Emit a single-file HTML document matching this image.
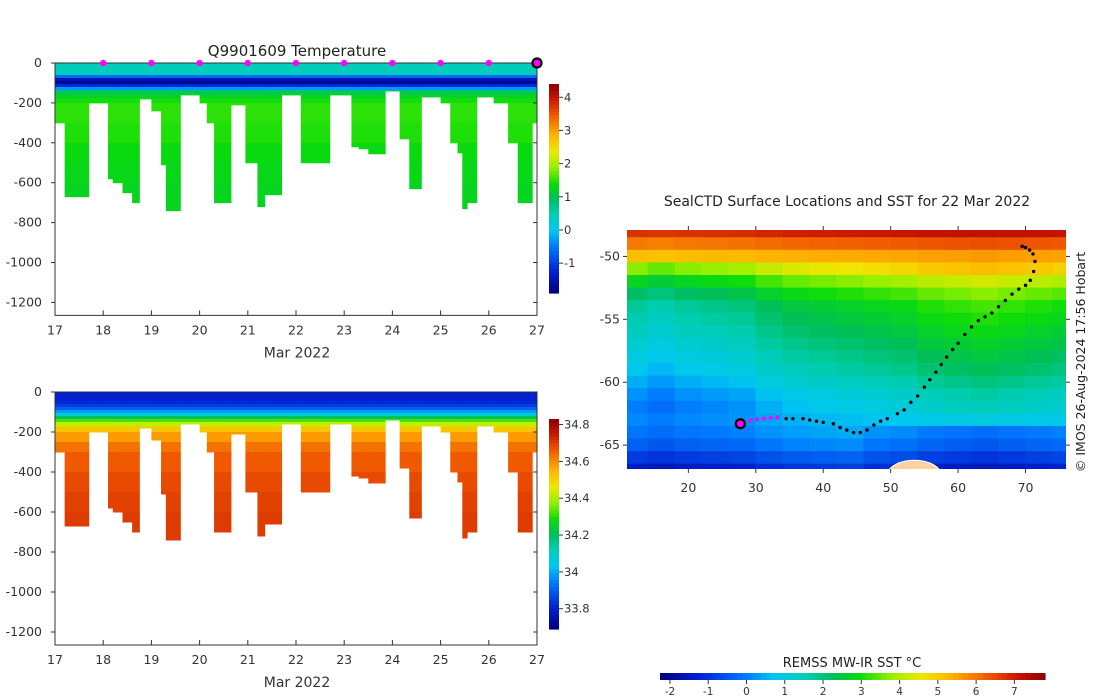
<!DOCTYPE html>
<html><head><meta charset="utf-8"><style>
body{margin:0;background:#fff}
svg{display:block;font-family:"DejaVu Sans","Liberation Sans",sans-serif}
.t{font-size:12.5px;fill:#333}
</style></head><body>
<svg id="fig" width="1100" height="700" viewBox="0 0 1100 700">
<g id="top"></g>
<g id="bot"></g>
<g id="map"></g>
<text x="297" y="56" text-anchor="middle" style="font-size:15px" fill="#222">Q9901609  Temperature</text>
<text x="847" y="206" text-anchor="middle" style="font-size:14px" fill="#222">SealCTD Surface Locations and SST for 22 Mar 2022</text>
<text x="852" y="667" text-anchor="middle" style="font-size:13px" fill="#222">REMSS MW-IR SST °C</text>
<text transform="translate(1085,362) rotate(-90)" text-anchor="middle" style="font-size:12.5px" fill="#222">© IMOS 26-Aug-2024 17:56 Hobart</text>
</svg>
<script>
// ---- section data ----
const colStart=[17.0,17.2,17.7,18.1,18.2,18.4,18.6,18.75,19.0,19.2,19.3,19.6,20.0,20.15,20.3,20.65,20.95,21.2,21.35,21.7,22.1,22.7,23.15,23.3,23.5,23.85,24.15,24.35,24.6,25.0,25.2,25.35,25.45,25.55,25.75,26.1,26.4,26.6,26.9];
const colEnd=[17.2,17.7,18.1,18.2,18.4,18.6,18.75,19.0,19.2,19.3,19.6,20.0,20.15,20.3,20.65,20.95,21.2,21.35,21.7,22.1,22.7,23.15,23.3,23.5,23.85,24.15,24.35,24.6,25.0,25.2,25.35,25.45,25.55,25.75,26.1,26.4,26.6,26.9,27.0];
const colMaxDepth=[300,670,200,580,600,650,700,180,240,510,740,160,200,300,700,210,500,720,660,160,500,160,420,430,455,140,380,630,170,200,400,450,730,700,170,200,400,700,300];
const depthLevels=[0,20,45,60,75,90,105,120,135,150,175,200,250,300,400,500,600,800];
const tempProfile=[0.45,0.45,0.4,-0.6,-1.5,-1.7,-1.2,-0.3,0.8,1.2,1.4,1.5,1.5,1.45,1.35,1.3,1.25,1.2];
const salProfile=[33.8,33.8,33.82,33.85,33.9,33.98,34.08,34.2,34.32,34.42,34.52,34.58,34.63,34.66,34.68,34.69,34.7,34.71];
const dayTicks=[17,18,19,20,21,22,23,24,25,26,27];
const depthTicks=[0,200,400,600,800,1000,1200];
const markerDays=[18,19,20,21,22,23,24,25,26];
const tempCbTicks=[-1,0,1,2,3,4];
const salCbTicks=[33.8,34,34.2,34.4,34.6,34.8];
// ---- map data ----
const sstLats=[-48,-49,-50,-51,-52,-53,-54,-55,-56,-57,-58,-59,-60,-61,-62,-63,-64,-65,-66,-67];
const sstByLat=[7.0,6.2,5.4,4.5,3.6,3.0,2.6,2.4,2.2,2.0,1.8,1.6,1.3,1.0,0.8,0.6,0.4,0.1,-0.4,-0.9];
const sstLons=[12,16,20,24,28,32,36,40,44,48,52,56,60,64,68,72,76];
const lonAnom=[-0.8,-1.0,-0.8,-0.7,-0.6,-0.3,-0.1,0.0,0.1,0.2,0.3,0.5,0.6,0.7,0.6,0.5,0.4];
const trackLon=[33.2,34.5,35.5,37,38,39,40,41.5,42.5,43.5,44.5,45.5,46.5,47.5,48.5,49.5,51,52,53,54,55,55.8,56.7,57.5,58.3,59.2,60,61,62,63,64,65,66,67,68,69,70,70.7,71.2,71.4,71.1,70.6,70.0,69.5];
const trackLat=[-62.8,-62.9,-62.9,-62.9,-63.0,-63.1,-63.2,-63.3,-63.6,-63.8,-64.0,-64.0,-63.8,-63.4,-63.1,-62.9,-62.5,-62.2,-61.6,-61.1,-60.4,-59.8,-59.2,-58.6,-58.0,-57.4,-56.9,-56.2,-55.6,-55.1,-54.8,-54.5,-54.0,-53.5,-53.0,-52.6,-52.3,-51.9,-51.2,-50.4,-49.8,-49.5,-49.3,-49.2];
const recentLon=[28.2,29.2,30.2,31.2,32.2,33.2];
const recentLat=[-63.15,-63.05,-62.95,-62.9,-62.85,-62.8];
const lonTicks=[20,30,40,50,60,70];
const latTicks=[-50,-55,-60,-65];
const sstCbTicks=[-2,-1,0,1,2,3,4,5,6,7];

const NS='http://www.w3.org/2000/svg';
function mk(p,tag,a){const e=document.createElementNS(NS,tag);for(const k in a)e.setAttribute(k,a[k]);p.appendChild(e);return e;}
const stops=[[0,[0,0,128]],[0.1,[0,32,208]],[0.22,[0,120,255]],[0.3,[0,200,240]],[0.38,[0,205,180]],[0.45,[0,190,90]],[0.52,[10,220,10]],[0.6,[150,240,0]],[0.68,[240,230,0]],[0.76,[255,175,0]],[0.85,[240,90,0]],[0.93,[200,20,0]],[1,[140,0,0]]];
function cmap(f){f=Math.max(0,Math.min(1,f));for(let i=1;i<stops.length;i++){if(f<=stops[i][0]){const a=stops[i-1],b=stops[i],t=(f-a[0])/(b[0]-a[0]);const c=a[1].map((v,j)=>Math.round(v+(b[1][j]-v)*t));return `rgb(${c})`;}}return 'rgb(140,0,0)';}

function section(g,y0,ys,profile,vmin,vmax,cbTop,cbBot,cbTicks,showMarkers){
  const xs=d=>55+(d-17)*48.2, yz=z=>y0+z*ys;
  for(let c=0;c<colStart.length;c++){
    for(let i=0;i<depthLevels.length;i++){
      const z0=depthLevels[i], z1=Math.min(i+1<depthLevels.length?depthLevels[i+1]:2000,colMaxDepth[c]);
      if(z0>=colMaxDepth[c])break;
      const r=mk(g,'rect',{x:xs(colStart[c]),y:yz(z0),width:xs(colEnd[c])-xs(colStart[c])+0.5,height:yz(z1)-yz(z0)+0.5,fill:cmap((profile[i]-vmin)/(vmax-vmin))});
      
      
    }
  }
  const ax=mk(g,'rect',{x:55,y:y0,width:482,height:yz(1265)-y0,fill:'none',stroke:'#333','stroke-width':1});
  
  dayTicks.forEach(d=>{mk(g,'line',{x1:xs(d),x2:xs(d),y1:yz(1265),y2:yz(1265)-5,stroke:'#333'});
    const t=mk(g,'text',{x:xs(d),y:yz(1265)+19,'text-anchor':'middle',class:'t'});t.textContent=d;
    });
  depthTicks.forEach(z=>{mk(g,'line',{x1:55,x2:51,y1:yz(z),y2:yz(z),stroke:'#333'});mk(g,'line',{x1:537,x2:533,y1:yz(z),y2:yz(z),stroke:'#333'});
    const t=mk(g,'text',{x:42,y:yz(z)+4,'text-anchor':'end',class:'t'});t.textContent=z===0?'0':'-'+z;
    });
  const xl=mk(g,'text',{x:297,y:yz(1265)+42,'text-anchor':'middle',style:'font-size:14px',fill:'#333'});xl.textContent='Mar 2022';
  
  const n=60,h=(cbBot-cbTop)/n;
  for(let i=0;i<n;i++){const r=mk(g,'rect',{x:549,y:cbTop+i*h,width:10,height:h+0.6,fill:cmap(1-(i+0.5)/n)});
    }
  cbTicks.forEach(v=>{const y=cbBot-(v-vmin)/(vmax-vmin)*(cbBot-cbTop);mk(g,'line',{x1:559,x2:563,y1:y,y2:y,stroke:'#333'});
    const t=mk(g,'text',{x:564,y:y+4,style:'font-size:11.5px',fill:'#333'});t.textContent=v;
    });
  if(showMarkers){markerDays.forEach(d=>{const m=mk(g,'circle',{cx:xs(d),cy:y0,r:3.2,fill:'#ff00ff'});
      });
    const m=mk(g,'circle',{cx:xs(27),cy:y0,r:4.5,fill:'#ff00ff',stroke:'#000','stroke-width':2.2});
    }
}
section(document.getElementById('top'),63,0.1995,tempProfile,-1.9,4.4,84,293,tempCbTicks,true);
section(document.getElementById('bot'),392,0.2,salProfile,33.69,34.83,419,629,salCbTicks,false);

(function(){
  const g=document.getElementById('map');
  const L=627,R=1066,T=230,B=469,lon0=10.9,lon1=76,lat0=-47.9,lat1=-66.9;
  const xm=lo=>L+(lo-lon0)/(lon1-lon0)*(R-L), ym=la=>T+(la-lat0)/(lat1-lat0)*(B-T);
  const vmin=-2.26,vmax=7.8;
  const cp=mk(g,'clipPath',{id:'mc'});mk(cp,'rect',{x:L,y:T,width:R-L,height:B-T});
  const cg=mk(g,'g',{'clip-path':'url(#mc)'});
  for(let r=0;r<sstLats.length;r++)for(let c=0;c<sstLons.length;c++){
    const w=r<3?0.3:(r>14?0.6:1);
    const v=sstByLat[r]+lonAnom[c]*w*(r>15&&sstLons[c]>44?-1.4:1);
    const rc=mk(cg,'rect',{x:xm(sstLons[c]-2)-0.3,y:ym(sstLats[r]+0.5)-0.3,width:xm(4)-xm(0)+0.8,height:ym(-1)-ym(0)+0.8,fill:cmap((v-vmin)/(vmax-vmin))});
    
  }
  const land=mk(cg,'ellipse',{cx:xm(53.5),cy:ym(-67.4),rx:xm(57.5)-xm(53.5),ry:15,fill:'#fdd1a0',stroke:'#fff','stroke-width':1});
  
  trackLon.forEach((lo,i)=>{const p=mk(g,'circle',{cx:xm(lo),cy:ym(trackLat[i]),r:1.7,fill:'#000'});
    });
  recentLon.forEach((lo,i)=>{const p=mk(g,'circle',{cx:xm(lo),cy:ym(recentLat[i]),r:2,fill:'#ff00ff'});
    });
  const cur=mk(g,'circle',{cx:xm(27.7),cy:ym(-63.3),r:4.5,fill:'#ff00ff',stroke:'#000','stroke-width':2.2});
  
  lonTicks.forEach(lo=>{mk(g,'line',{x1:xm(lo),x2:xm(lo),y1:B,y2:B+4,stroke:'#333'});mk(g,'line',{x1:xm(lo),x2:xm(lo),y1:T,y2:T-4,stroke:'#333'});
    const t=mk(g,'text',{x:xm(lo),y:B+23,'text-anchor':'middle',class:'t'});t.textContent=lo;
    });
  latTicks.forEach(la=>{mk(g,'line',{x1:L,x2:L-4,y1:ym(la),y2:ym(la),stroke:'#333'});mk(g,'line',{x1:R,x2:R+4,y1:ym(la),y2:ym(la),stroke:'#333'});
    const t=mk(g,'text',{x:L-7,y:ym(la)+4,'text-anchor':'end',class:'t'});t.textContent=la;
    });
  const cl=660,cR=1045,n=80,w=(cR-cl)/n;
  for(let i=0;i<n;i++){const r=mk(g,'rect',{x:cl+i*w,y:673,width:w+0.6,height:7,fill:cmap((i+0.5)/n)});
    }
  sstCbTicks.forEach(v=>{const x=cl+(v-vmin)/(vmax-vmin)*(cR-cl);mk(g,'line',{x1:x,x2:x,y1:680,y2:684,stroke:'#333'});
    const t=mk(g,'text',{x:x,y:695,'text-anchor':'middle',style:'font-size:10.5px',fill:'#333'});t.textContent=v;
    });
})();
</script>
</body></html>
